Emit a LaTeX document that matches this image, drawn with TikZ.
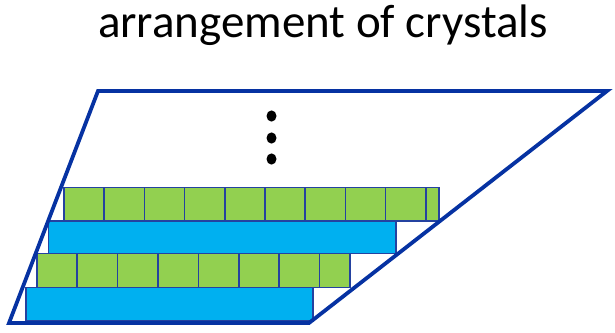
\documentclass[tikz,border=0pt]{standalone}
\usepackage{fontspec}
\setmainfont{Carlito}
\definecolor{frameblue}{RGB}{6,50,162}
\definecolor{edgeblue}{RGB}{36,66,160}
\definecolor{cellgreen}{RGB}{146,208,80}
\definecolor{slabblue}{RGB}{0,176,240}
\tikzset{
  greencell/.style={fill=cellgreen, draw=edgeblue, line width=1.6pt},
  blueslab/.style={fill=slabblue, draw=edgeblue, line width=1.6pt},
  frame/.style={draw=frameblue, line width=3.8pt, line join=miter},
  titletext/.style={font=\fontsize{47}{56}\selectfont, text=black, anchor=base, inner sep=0pt}
}
\begin{document}
\begin{tikzpicture}[x=1pt, y=-1pt]
  \useasboundingbox (0,0) rectangle (615,332);

  % title
  \node[titletext] (title) at (323,37) {arrangement of crystals};

  % lowest blue slab
  \draw[blueslab] (25.7,287.3) rectangle (312.7,320.7);

  % lower row of green crystals
  \foreach \xa/\xb in {36.7/77.1, 77.1/117.5, 117.5/157.9, 157.9/198.3,
                       198.3/238.7, 238.7/279.1, 279.1/319.5, 319.5/350}
    \draw[greencell] (\xa,253.3) rectangle (\xb,287.3);

  % upper blue slab
  \draw[blueslab] (48.3,220.7) rectangle (395.7,253.3);

  % upper row of green crystals
  \foreach \xa/\xb in {64/104.2, 104.2/144.4, 144.4/184.6, 184.6/224.8,
                       224.8/265, 265/305.2, 305.2/345.4, 345.4/385.6,
                       385.6/425.8, 425.8/439}
    \draw[greencell] (\xa,187.5) rectangle (\xb,220.7);

  % continuation dots
  \foreach \yy in {116,138,159}
    \fill[black] (271.5,\yy) ellipse [x radius=5pt, y radius=5.6pt];

  % enclosing parallelogram
  \draw[frame] (98,91) -- (607,91) -- (309,323) -- (9,323) -- cycle;
\end{tikzpicture}
\end{document}
